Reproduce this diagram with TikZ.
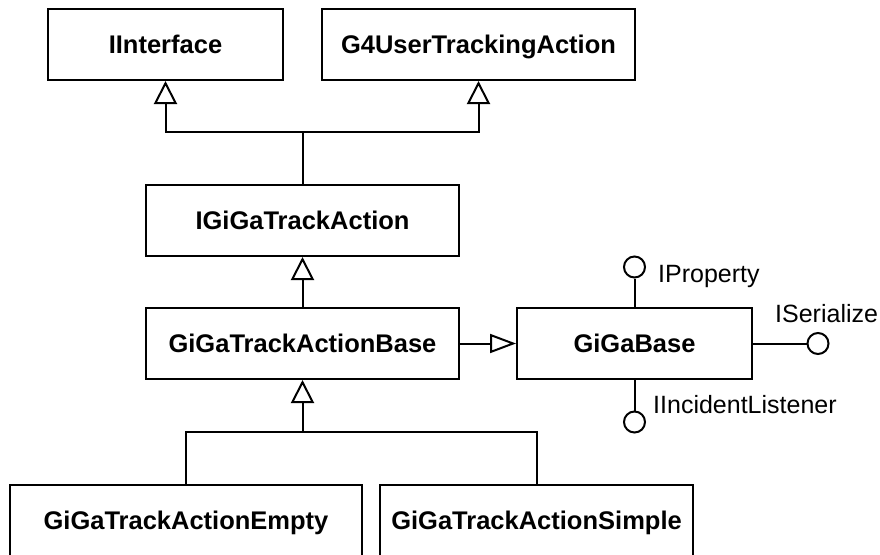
\documentclass[tikz,border=0pt]{standalone}
\usepackage{fontspec}
\setmainfont{Liberation Sans}
\usetikzlibrary{arrows.meta}
\tikzset{
  box/.style={draw, line width=2pt, inner sep=0pt, minimum height=71pt,
    font=\fontsize{25.5}{30}\selectfont\bfseries, text height=18pt, text depth=0pt},
  conn/.style={line width=2pt},
  inh/.style={conn, -{Triangle[open, length=23pt, width=23pt, line width=2pt]}},
  inhh/.style={conn, -{Triangle[open, length=26pt, width=19pt, line width=2pt]}},
  lolly/.style={draw, circle, line width=2pt, minimum size=21pt, inner sep=0pt},
  lbl/.style={font=\fontsize{25}{30}\selectfont, anchor=base west, inner sep=0pt}
}
\begin{document}
\begin{tikzpicture}[x=1pt, y=-1pt]
\useasboundingbox (0,0) rectangle (880,554);
\fill[white] (0,0) rectangle (880,554);
\clip (0,0) rectangle (880,554);
% boxes
\node[box, minimum width=235pt] (iint) at (165.5,44.5) {IInterface};
\node[box, minimum width=313pt] (g4) at (478.5,44.5) {G4UserTrackingAction};
\node[box, minimum width=313pt] (igiga) at (302.5,220.5) {IGiGaTrackAction};
\node[box, minimum width=313pt] (base) at (302.5,343.5) {GiGaTrackActionBase};
\node[box, minimum width=235pt] (gbase) at (634.5,343.5) {GiGaBase};
\node[box, minimum width=352pt] (empty) at (186,520.5) {GiGaTrackActionEmpty};
\node[box, minimum width=313pt] (simple) at (536.5,520.5) {GiGaTrackActionSimple};
% junctions
\coordinate (j1) at (302.5,132);
\coordinate (j2) at (302.5,432);
% inheritance IGiGaTrackAction -> IInterface, G4UserTrackingAction
\draw[conn] (igiga.north) -- (j1);
\draw[inh] (j1) -| (iint.south);
\draw[inh] (j1) -| (g4.south);
% GiGaTrackActionBase -> IGiGaTrackAction
\draw[inh] (base.north) -- (igiga.south);
% GiGaTrackActionBase -> GiGaBase
\draw[inhh] (base.east) -- (gbase.west);
% Empty, Simple -> Base
\draw[conn] (empty.north) |- (j2);
\draw[conn] (simple.north) |- (j2);
\draw[inh] (j2) -- (base.south);
% lollipops
\node[lolly] (lp) at (634.5,267) {};
\node[lolly] (ls) at (818,343.5) {};
\node[lolly] (li) at (634.5,422) {};
\draw[conn] (gbase.north) -- (lp);
\draw[conn] (gbase.east) -- (ls);
\draw[conn] (gbase.south) -- (li);
\node[lbl] (tp) at (658,282) {IProperty};
\node[lbl] (ts) at (775,322) {ISerialize};
\node[lbl] (ti) at (653,413) {IIncidentListener};
\end{tikzpicture}
\end{document}
